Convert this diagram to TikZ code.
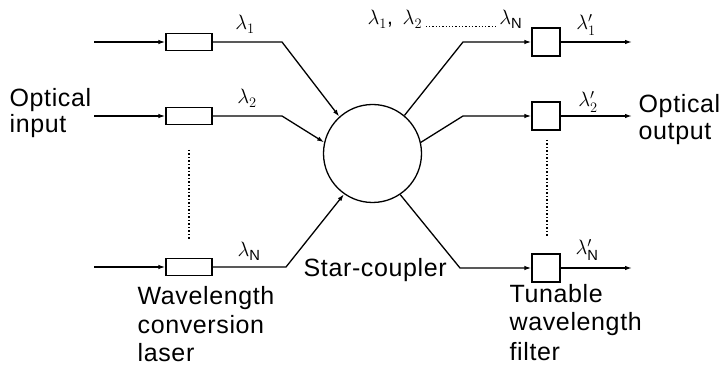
\documentclass[tikz,border=0pt]{standalone}
\usepackage{fontspec}
\setmainfont{Liberation Sans}[LetterSpace=2.5]
\usetikzlibrary{arrows.meta}
\begin{document}
\begin{tikzpicture}[x=1pt,y=-1pt,
  line width=1.3pt,
  arr/.style={-{Latex[length=7pt,width=4.5pt]}},
  laser/.style={draw,rectangle,minimum width=46pt,minimum height=17pt,inner sep=0pt},
  filt/.style={draw,rectangle,minimum width=28pt,minimum height=28pt,inner sep=0pt},
  lab/.style={font=\fontsize{25}{29}\selectfont,inner sep=0pt,align=left,anchor=base west},
  lam/.style={font=\fontsize{21}{24}\selectfont,inner sep=0pt,anchor=base},
  dotline/.style={dotted,line width=1.5pt}]
\useasboundingbox (0,0) rectangle (721,366);
% star coupler
\node[circle,draw,minimum size=98pt,inner sep=0pt] (sc) at (372.5,153.5) {};
% inputs
\coordinate (i1) at (94,42);
\coordinate (i2) at (94,116);
\coordinate (iN) at (94,267);
\node[laser] (l1) at (189,42) {};
\node[laser] (l2) at (189,116) {};
\node[laser] (lN) at (189,267) {};
\coordinate (k1) at (282,42);
\coordinate (k2) at (282,116);
\coordinate (kN) at (286,267);
\draw[arr] (i1) -- (l1.west);
\draw[arr] (i2) -- (l2.west);
\draw[arr] (iN) -- (lN.west);
\draw[arr] (l1.east) -- (k1) -- (sc.132);
\draw[arr] (l2.east) -- (k2) -- (sc.167);
\draw[arr] (lN.east) -- (kN) -- (sc.235);
% outputs
\coordinate (m1) at (463,42);
\coordinate (m2) at (463,116);
\coordinate (mN) at (460,268);
\node[filt] (f1) at (546,42) {};
\node[filt] (f2) at (546,116) {};
\node[filt] (fN) at (546,268) {};
\coordinate (o1) at (632,42);
\coordinate (o2) at (632,116);
\coordinate (oN) at (632,268);
\draw[arr] (sc.50) -- (m1) -- (f1.west);
\draw[arr] (sc.13) -- (m2) -- (f2.west);
\draw[arr] (sc.-56) -- (mN) -- (fN.west);
\draw[arr] (f1.east) -- (o1);
\draw[arr] (f2.east) -- (o2);
\draw[arr] (fN.east) -- (oN);
% dotted continuation marks
\coordinate (dl1) at (189,150);
\coordinate (dl2) at (189,240);
\coordinate (dr1) at (547,140);
\coordinate (dr2) at (547,237);
\draw[dotline] (dl1) -- (dl2);
\draw[dotline] (dr1) -- (dr2);
% wavelength labels
\node[lam] (t1) at (245,30) {$\lambda_1$};
\node[lam] (t2) at (247,104) {$\lambda_2$};
\node[lam] (tN) at (249,257) {$\lambda_{\mathrm{N}}$};
\node[lam,anchor=base west] (ta) at (367,25) {$\lambda_1$,\,\ $\lambda_2$};
\node[lam,anchor=base east] (tb) at (523,25) {$\lambda_{\mathrm{N}}$};
\draw[dotted,line width=1.3pt] ([xshift=3pt,yshift=-7pt]ta.east) -- ([xshift=-2pt,yshift=-7pt]tb.west);
\node[lam] (u1) at (586,30) {$\lambda'_1$};
\node[lam] (u2) at (588,107) {$\lambda'_2$};
\node[lam] (uN) at (587,255) {$\lambda'_{\mathrm{N}}$};
% text labels (anchored at the baseline of the last line)
\node[lab,font=\fontsize{25}{26}\selectfont] (oin) at (9,133) {Optical\\input};
\node[lab,font=\fontsize{25}{27}\selectfont] (oout) at (638,140) {Optical\\output};
\node[lab] (scl) at (303,277) {Star-coupler};
\node[lab,font=\fontsize{25}{28.5}\selectfont] (wcl) at (137,362) {Wavelength\\conversion\\laser};
\node[lab] (twf) at (509,360) {Tunable\\wavelength\\filter};
\end{tikzpicture}
\end{document}
